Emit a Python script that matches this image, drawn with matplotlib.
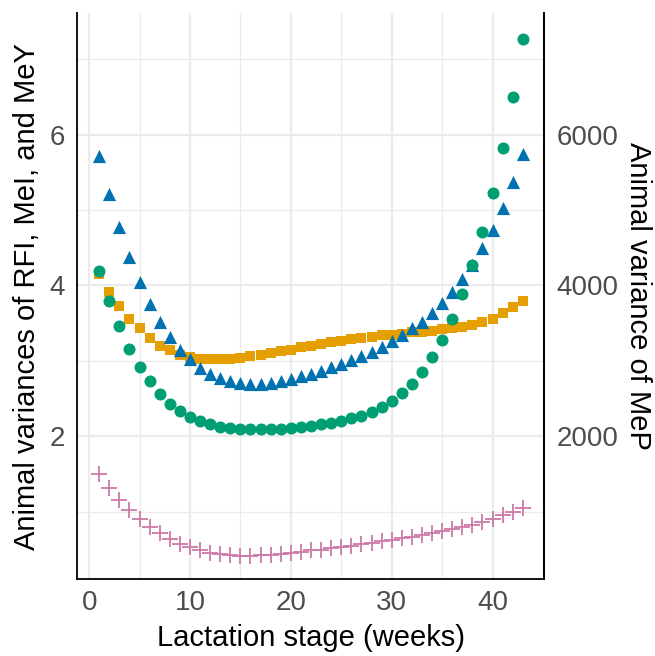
import numpy as np
import matplotlib
matplotlib.use("Agg")
import matplotlib.pyplot as plt
from matplotlib.ticker import MultipleLocator

plt.rcParams['font.family'] = ['Liberation Sans', 'DejaVu Sans']

# lactation weeks
weeks = np.arange(1, 44)

# animal variances (left axis)
rfi = [4.15, 3.91, 3.73, 3.56, 3.43, 3.30, 3.20, 3.14, 3.08, 3.05,
       3.03, 3.02, 3.02, 3.03, 3.04, 3.06, 3.08, 3.11, 3.13, 3.15,
       3.18, 3.20, 3.23, 3.25, 3.27, 3.29, 3.31, 3.32, 3.34, 3.35,
       3.36, 3.38, 3.39, 3.40, 3.42, 3.43, 3.45, 3.48, 3.51, 3.56,
       3.63, 3.71, 3.80]
mei = [5.72, 5.21, 4.77, 4.38, 4.04, 3.76, 3.52, 3.32, 3.15, 3.02,
       2.91, 2.83, 2.77, 2.73, 2.71, 2.70, 2.70, 2.71, 2.74, 2.76,
       2.80, 2.83, 2.87, 2.92, 2.96, 3.01, 3.06, 3.12, 3.19, 3.26,
       3.34, 3.43, 3.52, 3.63, 3.77, 3.91, 4.08, 4.27, 4.50, 4.74,
       5.03, 5.37, 5.74]
mey = [4.19, 3.79, 3.46, 3.16, 2.92, 2.73, 2.56, 2.43, 2.34, 2.26,
       2.20, 2.16, 2.13, 2.11, 2.10, 2.10, 2.10, 2.10, 2.10, 2.11,
       2.12, 2.14, 2.16, 2.18, 2.20, 2.24, 2.27, 2.32, 2.39, 2.47,
       2.57, 2.70, 2.86, 3.05, 3.28, 3.56, 3.89, 4.27, 4.71, 5.23,
       5.82, 6.50, 7.27]
# MeP variance (right axis)
mep = [1500, 1310, 1160, 1030, 910, 800, 720, 640, 580, 530,
       490, 460, 440, 430, 420, 420, 430, 430, 440, 460,
       470, 490, 500, 520, 540, 550, 570, 590, 610, 630,
       650, 670, 690, 720, 740, 770, 800, 830, 870, 910,
       960, 1000, 1050]
scale = 1000

fig = plt.figure(figsize=(6.55, 6.56), dpi=100)
ax = fig.add_axes([0.1176, 0.1174, 0.7129, 0.8626])

ax.scatter(weeks, rfi, marker="s", s=60, color="#E69F00", linewidths=0, zorder=3)
ax.scatter(weeks, mei, marker="^", s=90, color="#0072B2", linewidths=0, zorder=3)
ax.scatter(weeks, mey, marker="o", s=75, color="#009E73", linewidths=0, zorder=3)
ax.scatter(weeks, np.array(mep) / scale, marker="+", s=120, color="#CC79A7",
           linewidths=1.3, zorder=3)

ax.set_xlim(-1.2, 45.1)
ax.set_ylim(0.11, 7.61)

ax.xaxis.set_major_locator(MultipleLocator(10))
ax.xaxis.set_minor_locator(MultipleLocator(5))
ax.yaxis.set_major_locator(MultipleLocator(2))
ax.yaxis.set_minor_locator(MultipleLocator(1))
ax.grid(which="major", color="#EBEBEB", linewidth=1.6)
ax.grid(which="minor", color="#EBEBEB", linewidth=0.9)
ax.set_axisbelow(True)
ax.tick_params(which="both", length=0, labelsize=20, labelcolor="#4D4D4D")
ax.tick_params(axis="x", pad=8)
ax.tick_params(axis="y", pad=9)

ax.spines["top"].set_visible(False)
for side in ["left", "bottom", "right"]:
    ax.spines[side].set_color("black")
    ax.spines[side].set_linewidth(1.3)

ax.set_xlabel("Lactation stage (weeks)", fontsize=21, labelpad=6)
ax.set_ylabel("Animal variances of RFI, MeI, and MeY", fontsize=21, labelpad=6)

ax2 = ax.twinx()
ax2.set_ylim(0.11 * scale, 7.61 * scale)
ax2.yaxis.set_major_locator(MultipleLocator(2000))
ax2.tick_params(length=0, labelsize=20, labelcolor="#4D4D4D", pad=9)
for side in ["top", "left", "bottom"]:
    ax2.spines[side].set_visible(False)
ax2.spines["right"].set_linewidth(1.3)
ax2.set_ylabel("Animal variance of MeP", fontsize=21, rotation=-90, labelpad=24)

fig.savefig("out.png", dpi=100)
